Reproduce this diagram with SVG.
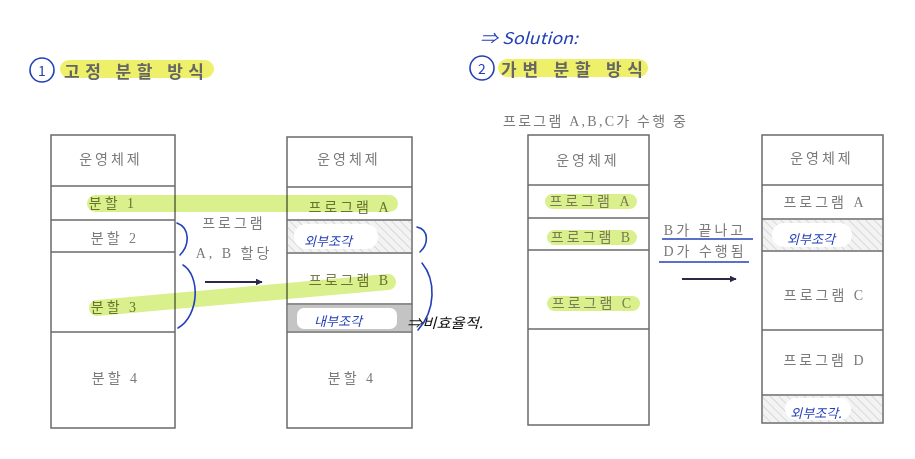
<svg xmlns="http://www.w3.org/2000/svg" width="915" height="459" viewBox="0 0 915 459">
<defs>
<pattern id="hatch" width="6" height="6" patternUnits="userSpaceOnUse" patternTransform="rotate(-45)">
<rect width="6" height="6" fill="#f3f3f3"/>
<line x1="0" y1="0" x2="0" y2="6" stroke="#cfcfcf" stroke-width="1.5"/>
</pattern>
<marker id="arr" viewBox="0 0 10 10" refX="9" refY="5" markerWidth="7" markerHeight="7" orient="auto" markerUnits="userSpaceOnUse">
<path d="M0,0 L10,5 L0,10 Z" fill="#2a2a48"/>
</marker>
</defs>
<style>
.box{fill:#fff;stroke:#6a6a6a;stroke-width:1.5}
.div{stroke:#6a6a6a;stroke-width:1.5}
.t{font-family:"Liberation Serif","Noto Sans CJK KR",serif;font-size:14px;fill:#7a7a7a;text-anchor:middle;dominant-baseline:central;letter-spacing:3px}
.tg{fill:#7a7a55}
.hw{font-family:"Noto Sans CJK KR",sans-serif;font-size:13px;fill:#2340b8;text-anchor:middle;dominant-baseline:central;font-style:italic}
.brace{fill:none;stroke:#2340b8;stroke-width:1.6;stroke-linecap:round}
.hl{fill:#d9f08c}
.band{mix-blend-mode:multiply}
.head{font-family:"Noto Sans CJK KR",sans-serif;font-size:17px;fill:#666;dominant-baseline:central;font-weight:bold}
.arrow{stroke:#2a2a48;stroke-width:2;fill:none;marker-end:url(#arr)}
</style>
<rect width="915" height="459" fill="#fff"/>

<!-- headings -->
<g id="heading1">
<rect x="60" y="60" width="154" height="18" rx="9" fill="#eef06a"/>
<circle cx="42" cy="70" r="12" fill="none" stroke="#2340b8" stroke-width="1.6"/>
<text x="42" y="70" class="hw" style="font-style:normal;font-size:14px">1</text>
<text x="64" y="70" class="head" textLength="140" lengthAdjust="spacing">고정 분할 방식</text>
</g>
<g id="solution">
<text x="480" y="37" font-family="Noto Sans CJK KR, sans-serif" font-size="16" fill="#2340b8" dominant-baseline="central" font-style="italic" textLength="98" lengthAdjust="spacingAndGlyphs">⇒ Solution:</text>
</g>
<g id="heading2">
<rect x="498" y="59" width="150" height="18" rx="9" fill="#eef06a"/>
<circle cx="482" cy="68" r="12" fill="none" stroke="#2340b8" stroke-width="1.6"/>
<text x="482" y="68" class="hw" style="font-style:normal;font-size:14px">2</text>
<text x="501" y="68" class="head" textLength="142" lengthAdjust="spacing">가변 분할 방식</text>
</g>

<!-- Box 1: fixed partitions -->
<g id="box1">
<rect x="51" y="135" width="124" height="293" class="box"/>
<line x1="51" y1="186" x2="175" y2="186" class="div"/>
<line x1="51" y1="220" x2="175" y2="220" class="div"/>
<line x1="51" y1="252" x2="175" y2="252" class="div"/>
<line x1="51" y1="332" x2="175" y2="332" class="div"/>
<text x="111" y="159" class="t">운영체제</text>
<text x="113" y="203" class="t tg">분할 1</text>
<text x="115" y="238" class="t">분할 2</text>
<text x="115" y="307" class="t tg">분할 3</text>
<text x="116" y="378" class="t">분할 4</text>
</g>

<!-- Box 2 -->
<g id="box2">
<rect x="287" y="137" width="125" height="291" class="box"/>
<rect x="288" y="221" width="123" height="31" fill="url(#hatch)"/>
<rect x="294" y="224" width="84" height="25" rx="12" fill="#fff"/>
<rect x="288" y="305" width="123" height="26" fill="#c4c4c4"/>
<rect x="297" y="308" width="100" height="21" rx="7" fill="#fff"/>
<line x1="287" y1="187" x2="412" y2="187" class="div"/>
<line x1="287" y1="220" x2="412" y2="220" class="div"/>
<line x1="287" y1="253" x2="412" y2="253" class="div"/>
<line x1="287" y1="304" x2="412" y2="304" class="div"/>
<line x1="287" y1="332" x2="412" y2="332" class="div"/>
<text x="349" y="159" class="t">운영체제</text>
<text x="350" y="207" class="t tg">프로그램 A</text>
<text x="328" y="240" class="hw">외부조각</text>
<text x="350" y="280" class="t tg">프로그램 B</text>
<text x="338" y="320" class="hw">내부조각</text>
<text x="352" y="378" class="t">분할 4</text>
</g>

<!-- middle labels -->
<g id="label-alloc">
<text x="234" y="223" class="t">프로그램</text>
<text x="234" y="253" class="t">A, B 할당</text>
</g>
<g id="label-bd">
<text x="705" y="230" class="t">B가 끝나고</text>
<line x1="662" y1="239" x2="753" y2="239" stroke="#2340b8" stroke-width="1.5"/>
<text x="705" y="251" class="t">D가 수행됨</text>
<line x1="659" y1="262" x2="749" y2="262" stroke="#2340b8" stroke-width="1.5"/>
</g>
<g id="note-inefficient">
<text x="407" y="322" font-family="Noto Sans CJK KR, sans-serif" font-size="14" fill="#111" dominant-baseline="central" font-style="italic" textLength="76" lengthAdjust="spacingAndGlyphs">⇒비효율적.</text>
</g>

<!-- Box 3 -->
<g id="box3">
<text x="596" y="121" class="t" textLength="186" lengthAdjust="spacing">프로그램 A,B,C가 수행 중</text>
<rect x="528" y="135" width="121" height="290" class="box"/>
<line x1="528" y1="185" x2="649" y2="185" class="div"/>
<line x1="528" y1="218" x2="649" y2="218" class="div"/>
<line x1="528" y1="250" x2="649" y2="250" class="div"/>
<line x1="528" y1="329" x2="649" y2="329" class="div"/>
<text x="588" y="160" class="t">운영체제</text>
<rect x="545" y="194" width="92" height="15" rx="7.5" class="hl"/>
<text x="591" y="201" class="t tg">프로그램 A</text>
<rect x="547" y="230" width="90" height="15" rx="7.5" class="hl"/>
<text x="592" y="237" class="t tg">프로그램 B</text>
<rect x="547" y="296" width="93" height="15" rx="7.5" class="hl"/>
<text x="593" y="303" class="t tg">프로그램 C</text>
</g>

<!-- Box 4 -->
<g id="box4">
<rect x="762" y="135" width="121" height="288" class="box"/>
<rect x="763" y="220" width="119" height="30" fill="url(#hatch)"/>
<rect x="772" y="223" width="80" height="24" rx="12" fill="#fff"/>
<rect x="763" y="396" width="119" height="26" fill="url(#hatch)"/>
<rect x="785" y="398" width="66" height="22" rx="11" fill="#fff"/>
<line x1="762" y1="185" x2="883" y2="185" class="div"/>
<line x1="762" y1="219" x2="883" y2="219" class="div"/>
<line x1="762" y1="251" x2="883" y2="251" class="div"/>
<line x1="762" y1="330" x2="883" y2="330" class="div"/>
<line x1="762" y1="395" x2="883" y2="395" class="div"/>
<text x="822" y="158" class="t">운영체제</text>
<text x="825" y="202" class="t">프로그램 A</text>
<text x="811" y="238" class="hw">외부조각</text>
<text x="825" y="295" class="t">프로그램 C</text>
<text x="825" y="360" class="t">프로그램 D</text>
<text x="816" y="412" class="hw">외부조각.</text>
</g>

<!-- highlight bands linking partitions to programs (multiplied over boxes) -->
<g id="highlights">
<rect x="87" y="195" width="311" height="17" rx="8.5" class="hl band"/>
<line x1="97" y1="308" x2="388" y2="282" stroke="#d9f08c" stroke-width="16" stroke-linecap="round" class="band"/>
</g>

<!-- connectors -->
<g id="connectors">
<line x1="205" y1="282" x2="262" y2="282" class="arrow"/>
<line x1="682" y1="279" x2="736" y2="279" class="arrow"/>
<path d="M177,223 C190,228 190,245 180,255" class="brace"/>
<path d="M183,265 C200,275 200,315 178,328" class="brace"/>
<path d="M417,227 C430,230 428,245 420,252" class="brace"/>
<path d="M422,263 C436,280 436,310 418,330" class="brace"/>
</g>
</svg>
